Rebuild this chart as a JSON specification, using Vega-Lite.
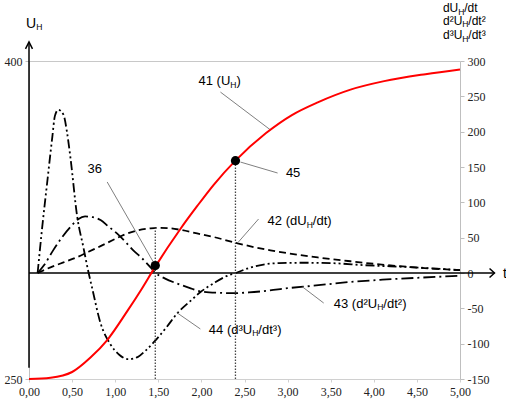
{
  "$schema": "https://vega.github.io/schema/vega-lite/v6.json",
  "width": 431,
  "height": 318,
  "autosize": {"type": "none"},
  "padding": {"left": 29, "top": 61, "right": 46, "bottom": 20},
  "background": "white",
  "config": {"view": {"stroke": null}, "font": "Liberation Sans"},
  "datasets": {
    "U": [
      {"t": 0, "U": 250}, {"t": 0.25, "U": 250.6}, {"t": 0.5, "U": 253.3}, {"t": 0.71, "U": 260},
      {"t": 0.91, "U": 268.5}, {"t": 1.14, "U": 282}, {"t": 1.3, "U": 292}, {"t": 1.465, "U": 303},
      {"t": 1.76, "U": 321}, {"t": 1.95, "U": 331.5}, {"t": 2.14, "U": 341.5}, {"t": 2.395, "U": 353},
      {"t": 2.75, "U": 366}, {"t": 3.05, "U": 374.5}, {"t": 3.35, "U": 380.5}, {"t": 3.73, "U": 386.5},
      {"t": 4.12, "U": 390.5}, {"t": 4.6, "U": 393.8}, {"t": 5, "U": 396}
    ],
    "pts": [{"t": 1.465, "U": 303.5}, {"t": 2.395, "U": 353}],
    "D": [
      {"s": "d1", "t": 0.1, "v": 0}, {"s": "d1", "t": 0.25, "v": 8}, {"s": "d1", "t": 0.4, "v": 15},
      {"s": "d1", "t": 0.55, "v": 22}, {"s": "d1", "t": 0.69, "v": 30}, {"s": "d1", "t": 0.83, "v": 38},
      {"s": "d1", "t": 0.98, "v": 47}, {"s": "d1", "t": 1.1, "v": 54}, {"s": "d1", "t": 1.25, "v": 60},
      {"s": "d1", "t": 1.4, "v": 63}, {"s": "d1", "t": 1.5, "v": 64}, {"s": "d1", "t": 1.62, "v": 63.5},
      {"s": "d1", "t": 1.76, "v": 61}, {"s": "d1", "t": 1.95, "v": 56}, {"s": "d1", "t": 2.14, "v": 51},
      {"s": "d1", "t": 2.42, "v": 42}, {"s": "d1", "t": 2.8, "v": 32}, {"s": "d1", "t": 3.0, "v": 28},
      {"s": "d1", "t": 3.35, "v": 22}, {"s": "d1", "t": 3.7, "v": 17}, {"s": "d1", "t": 4.0, "v": 13},
      {"s": "d1", "t": 4.47, "v": 8}, {"s": "d1", "t": 5.0, "v": 4},
      {"s": "d2", "t": 0.1, "v": 0}, {"s": "d2", "t": 0.18, "v": 12}, {"s": "d2", "t": 0.28, "v": 32},
      {"s": "d2", "t": 0.38, "v": 50}, {"s": "d2", "t": 0.48, "v": 65}, {"s": "d2", "t": 0.57, "v": 76},
      {"s": "d2", "t": 0.65, "v": 80}, {"s": "d2", "t": 0.74, "v": 79}, {"s": "d2", "t": 0.83, "v": 75},
      {"s": "d2", "t": 0.92, "v": 66}, {"s": "d2", "t": 1.02, "v": 56}, {"s": "d2", "t": 1.12, "v": 44},
      {"s": "d2", "t": 1.21, "v": 32}, {"s": "d2", "t": 1.31, "v": 21}, {"s": "d2", "t": 1.41, "v": 8},
      {"s": "d2", "t": 1.47, "v": 0}, {"s": "d2", "t": 1.58, "v": -8}, {"s": "d2", "t": 1.72, "v": -15},
      {"s": "d2", "t": 1.86, "v": -21}, {"s": "d2", "t": 1.99, "v": -26}, {"s": "d2", "t": 2.2, "v": -28},
      {"s": "d2", "t": 2.37, "v": -28.5}, {"s": "d2", "t": 2.55, "v": -27.5}, {"s": "d2", "t": 2.77, "v": -25},
      {"s": "d2", "t": 3.0, "v": -21.5}, {"s": "d2", "t": 3.3, "v": -18}, {"s": "d2", "t": 3.7, "v": -13},
      {"s": "d2", "t": 4.1, "v": -9.5}, {"s": "d2", "t": 4.47, "v": -7}, {"s": "d2", "t": 5.0, "v": -4},
      {"s": "d3", "t": 0.1, "v": 0}, {"s": "d3", "t": 0.15, "v": 61}, {"s": "d3", "t": 0.21, "v": 127},
      {"s": "d3", "t": 0.27, "v": 192}, {"s": "d3", "t": 0.3, "v": 222}, {"s": "d3", "t": 0.34, "v": 231},
      {"s": "d3", "t": 0.4, "v": 224}, {"s": "d3", "t": 0.44, "v": 200}, {"s": "d3", "t": 0.48, "v": 164},
      {"s": "d3", "t": 0.56, "v": 79}, {"s": "d3", "t": 0.63, "v": 37}, {"s": "d3", "t": 0.69, "v": 1},
      {"s": "d3", "t": 0.73, "v": -20}, {"s": "d3", "t": 0.83, "v": -71}, {"s": "d3", "t": 0.94, "v": -100},
      {"s": "d3", "t": 1.05, "v": -116}, {"s": "d3", "t": 1.15, "v": -122}, {"s": "d3", "t": 1.26, "v": -119},
      {"s": "d3", "t": 1.35, "v": -110}, {"s": "d3", "t": 1.47, "v": -95}, {"s": "d3", "t": 1.6, "v": -76},
      {"s": "d3", "t": 1.72, "v": -57}, {"s": "d3", "t": 1.86, "v": -41}, {"s": "d3", "t": 1.99, "v": -27},
      {"s": "d3", "t": 2.15, "v": -14}, {"s": "d3", "t": 2.3, "v": -4}, {"s": "d3", "t": 2.4, "v": 0},
      {"s": "d3", "t": 2.55, "v": 7}, {"s": "d3", "t": 2.72, "v": 12}, {"s": "d3", "t": 2.9, "v": 14},
      {"s": "d3", "t": 3.2, "v": 14.5}, {"s": "d3", "t": 3.5, "v": 14}, {"s": "d3", "t": 3.9, "v": 11},
      {"s": "d3", "t": 4.47, "v": 8}, {"s": "d3", "t": 5.0, "v": 4}
    ],
    "zl": [{"t": 0, "t2": 5.4, "v": 0}],
    "la": [{"t": 0, "v": -134, "v2": 327}],
    "upHead": [{"t": 0, "v": 327}],
    "rHead": [{"t": 5.4, "v": 0}],
    "vlines": [{"t": 1.465, "v": -150, "v2": 64}, {"t": 2.395, "v": -150, "v2": 158}],
    "leaders": [
      {"t": 2.221, "v": 256, "t2": 2.802, "v2": 202.4},
      {"t": 0.907, "v": 128.8, "t2": 1.442, "v2": 15.6},
      {"t": 2.453, "v": 157, "t2": 2.884, "v2": 141.5},
      {"t": 2.663, "v": 76.4, "t2": 2.43, "v2": 43.9},
      {"t": 3.419, "v": -42.5, "t2": 3.174, "v2": -19.8},
      {"t": 1.988, "v": -79.2, "t2": 1.721, "v2": -56.6}
    ],
    "parts": [
      {"g": "a", "t": 2.335, "v": 266, "pre": "41 (U", "post": ")"},
      {"g": "a", "t": 3.221, "v": 67.9, "pre": "42 (dU", "post": "/dt)"},
      {"g": "a", "t": 4.039, "v": -49.5, "pre": "43 (d²U", "post": "/dt²)"},
      {"g": "a", "t": 2.589, "v": -86.3, "pre": "44 (d³U", "post": "/dt³)"},
      {"g": "r", "t": 4.98, "v": 369, "pre": "dU", "post": "/dt"},
      {"g": "r", "t": 5.027, "v": 351, "pre": "d²U", "post": "/dt²"},
      {"g": "r", "t": 5.027, "v": 331, "pre": "d³U", "post": "/dt³"},
      {"g": "u", "t": 0.083, "v": 346.7, "pre": "U", "post": ""}
    ],
    "lbl": [
      {"g": "a", "t": 0.762, "v": 141.5, "txt": "36"},
      {"g": "a", "t": 3.064, "v": 135.8, "txt": "45"},
      {"g": "u", "t": 5.52, "v": -7, "txt": "t"}
    ]
  },
  "layer": [
    {
      "data": {"name": "D"},
      "mark": {"type": "line", "color": "#000000", "strokeWidth": 1.8, "interpolate": "monotone", "clip": false},
      "encoding": {
        "x": {"field": "t", "type": "quantitative", "scale": {"domain": [0, 5], "nice": false},
          "axis": {"orient": "bottom", "values": [0, 0.5, 1, 1.5, 2, 2.5, 3, 3.5, 4, 4.5, 5],
            "labelExpr": "replace(format(datum.value, '.2f'), '.', ',')", "grid": false,
            "domainColor": "#d0d0d0", "tickColor": "#d0d0d0", "tickSize": 3, "labelPadding": 4,
            "labelFont": "'Liberation Serif', 'Times New Roman', serif", "labelFontSize": 12, "labelColor": "#222222",
            "labelOverlap": false, "labelFlush": false, "title": null}},
        "y": {"field": "v", "type": "quantitative", "scale": {"domain": [-150, 300], "nice": false},
          "axis": {"orient": "right", "values": [-150, -100, -50, 0, 50, 100, 150, 200, 250, 300],
            "labelExpr": "datum.value < 0 ? '-' + abs(datum.value) : '' + datum.value",
            "grid": false, "domainColor": "#bfbfbf", "tickColor": "#bfbfbf", "tickSize": 4,
            "labelPadding": 3, "labelFont": "'Liberation Serif', 'Times New Roman', serif", "labelFontSize": 12,
            "labelColor": "#222222", "title": null}},
        "detail": {"field": "s"},
        "strokeDash": {"field": "s", "type": "nominal", "legend": null,
          "scale": {"domain": ["d1", "d2", "d3"], "range": [[7, 4], [12, 4, 2, 4], [9, 3, 2, 3, 2, 3]]}}
      }
    },
    {
      "data": {"name": "zl"},
      "mark": {"type": "rule", "color": "#000000", "strokeWidth": 1.5, "clip": false},
      "encoding": {
        "x": {"field": "t", "type": "quantitative", "scale": {"domain": [0, 5], "nice": false}},
        "x2": {"field": "t2"},
        "y": {"field": "v", "type": "quantitative", "scale": {"domain": [-150, 300], "nice": false}, "axis": null}
      }
    },
    {
      "data": {"name": "la"},
      "mark": {"type": "rule", "color": "#000000", "strokeWidth": 1.5, "clip": false},
      "encoding": {
        "x": {"field": "t", "type": "quantitative", "scale": {"domain": [0, 5], "nice": false}},
        "y": {"field": "v", "type": "quantitative", "scale": {"domain": [-150, 300], "nice": false}, "axis": null},
        "y2": {"field": "v2"}
      }
    },
    {
      "data": {"name": "upHead"},
      "mark": {"type": "point", "shape": "M-1,2L0,0L1,2", "size": 49, "filled": false, "color": "#000000", "strokeWidth": 1.5, "opacity": 1, "clip": false},
      "encoding": {
        "x": {"field": "t", "type": "quantitative", "scale": {"domain": [0, 5], "nice": false}},
        "y": {"field": "v", "type": "quantitative", "scale": {"domain": [-150, 300], "nice": false}, "axis": null}
      }
    },
    {
      "data": {"name": "rHead"},
      "mark": {"type": "point", "shape": "M-1.1,-1L0,0L-1.1,1", "size": 81, "filled": false, "color": "#000000", "strokeWidth": 1.5, "opacity": 1, "clip": false},
      "encoding": {
        "x": {"field": "t", "type": "quantitative", "scale": {"domain": [0, 5], "nice": false}},
        "y": {"field": "v", "type": "quantitative", "scale": {"domain": [-150, 300], "nice": false}, "axis": null}
      }
    },
    {
      "data": {"name": "vlines"},
      "mark": {"type": "rule", "color": "#444444", "strokeWidth": 1.3, "strokeDash": [1.5, 1.5], "clip": false},
      "encoding": {
        "x": {"field": "t", "type": "quantitative", "scale": {"domain": [0, 5], "nice": false}},
        "y": {"field": "v", "type": "quantitative", "scale": {"domain": [-150, 300], "nice": false}, "axis": null},
        "y2": {"field": "v2"}
      }
    },
    {
      "data": {"name": "leaders"},
      "mark": {"type": "rule", "color": "#808080", "strokeWidth": 1, "clip": false},
      "encoding": {
        "x": {"field": "t", "type": "quantitative", "scale": {"domain": [0, 5], "nice": false}},
        "x2": {"field": "t2"},
        "y": {"field": "v", "type": "quantitative", "scale": {"domain": [-150, 300], "nice": false}, "axis": null},
        "y2": {"field": "v2"}
      }
    },
    {
      "data": {"name": "U"},
      "mark": {"type": "line", "color": "#ff0000", "strokeWidth": 2, "interpolate": "monotone", "clip": false},
      "encoding": {
        "x": {"field": "t", "type": "quantitative", "scale": {"domain": [0, 5], "nice": false}},
        "y": {"field": "U", "type": "quantitative", "scale": {"domain": [250, 400], "nice": false, "zero": false},
          "axis": {"orient": "left", "values": [250, 400], "grid": true, "gridColor": "#c8c8c8", "gridWidth": 1,
            "domain": true, "domainColor": "#bfbfbf", "tickColor": "#bfbfbf", "tickSize": 4, "labelPadding": 3,
            "labelFont": "'Liberation Serif', 'Times New Roman', serif", "labelFontSize": 12, "labelColor": "#222222", "title": null}}
      }
    },
    {
      "data": {"name": "pts"},
      "mark": {"type": "point", "filled": true, "color": "#000000", "size": 85, "opacity": 1, "clip": false},
      "encoding": {
        "x": {"field": "t", "type": "quantitative", "scale": {"domain": [0, 5], "nice": false}},
        "y": {"field": "U", "type": "quantitative", "scale": {"domain": [250, 400], "nice": false, "zero": false}, "axis": null}
      }
    },
    {
      "data": {"name": "parts"},
      "transform": [{"filter": "datum.g == 'a'"}],
      "mark": {"type": "text", "align": "right", "baseline": "alphabetic", "color": "#000000", "font": "Liberation Sans", "fontSize": 13, "clip": false},
      "encoding": {
        "x": {"field": "t", "type": "quantitative", "scale": {"domain": [0, 5], "nice": false}},
        "y": {"field": "v", "type": "quantitative", "scale": {"domain": [-150, 300], "nice": false}, "axis": null},
        "text": {"field": "pre"}
      }
    },
    {
      "data": {"name": "parts"},
      "transform": [{"filter": "datum.g == 'a'"}],
      "mark": {"type": "text", "align": "left", "baseline": "alphabetic", "color": "#000000", "font": "Liberation Sans", "fontSize": 13, "dx": 6.2, "clip": false},
      "encoding": {
        "x": {"field": "t", "type": "quantitative", "scale": {"domain": [0, 5], "nice": false}},
        "y": {"field": "v", "type": "quantitative", "scale": {"domain": [-150, 300], "nice": false}, "axis": null},
        "text": {"field": "post"}
      }
    },
    {
      "data": {"name": "parts"},
      "transform": [{"filter": "datum.g == 'r'"}],
      "mark": {"type": "text", "align": "right", "baseline": "alphabetic", "color": "#000000", "font": "Liberation Sans", "fontSize": 12, "clip": false},
      "encoding": {
        "x": {"field": "t", "type": "quantitative", "scale": {"domain": [0, 5], "nice": false}},
        "y": {"field": "v", "type": "quantitative", "scale": {"domain": [-150, 300], "nice": false}, "axis": null},
        "text": {"field": "pre"}
      }
    },
    {
      "data": {"name": "parts"},
      "transform": [{"filter": "datum.g == 'r'"}],
      "mark": {"type": "text", "align": "left", "baseline": "alphabetic", "color": "#000000", "font": "Liberation Sans", "fontSize": 12, "dx": 6.0, "clip": false},
      "encoding": {
        "x": {"field": "t", "type": "quantitative", "scale": {"domain": [0, 5], "nice": false}},
        "y": {"field": "v", "type": "quantitative", "scale": {"domain": [-150, 300], "nice": false}, "axis": null},
        "text": {"field": "post"}
      }
    },
    {
      "data": {"name": "parts"},
      "transform": [{"filter": "datum.g == 'u'"}],
      "mark": {"type": "text", "align": "right", "baseline": "alphabetic", "color": "#000000", "font": "Liberation Sans", "fontSize": 14, "clip": false},
      "encoding": {
        "x": {"field": "t", "type": "quantitative", "scale": {"domain": [0, 5], "nice": false}},
        "y": {"field": "v", "type": "quantitative", "scale": {"domain": [-150, 300], "nice": false}, "axis": null},
        "text": {"field": "pre"}
      }
    },
    {
      "data": {"name": "parts"},
      "mark": {"type": "text", "align": "left", "baseline": "alphabetic", "color": "#000000", "font": "Liberation Sans", "fontSize": 8.5, "dy": 2.5, "clip": false},
      "encoding": {
        "x": {"field": "t", "type": "quantitative", "scale": {"domain": [0, 5], "nice": false}},
        "y": {"field": "v", "type": "quantitative", "scale": {"domain": [-150, 300], "nice": false}, "axis": null},
        "text": {"value": "H"}
      }
    },
    {
      "data": {"name": "lbl"},
      "transform": [{"filter": "datum.g == 'a'"}],
      "mark": {"type": "text", "align": "center", "baseline": "alphabetic", "color": "#000000", "font": "Liberation Sans", "fontSize": 13, "clip": false},
      "encoding": {
        "x": {"field": "t", "type": "quantitative", "scale": {"domain": [0, 5], "nice": false}},
        "y": {"field": "v", "type": "quantitative", "scale": {"domain": [-150, 300], "nice": false}, "axis": null},
        "text": {"field": "txt"}
      }
    },
    {
      "data": {"name": "lbl"},
      "transform": [{"filter": "datum.g == 'u'"}],
      "mark": {"type": "text", "align": "center", "baseline": "alphabetic", "color": "#000000", "font": "Liberation Sans", "fontSize": 14, "clip": false},
      "encoding": {
        "x": {"field": "t", "type": "quantitative", "scale": {"domain": [0, 5], "nice": false}},
        "y": {"field": "v", "type": "quantitative", "scale": {"domain": [-150, 300], "nice": false}, "axis": null},
        "text": {"field": "txt"}
      }
    }
  ],
  "resolve": {"scale": {"y": "independent"}}
}
